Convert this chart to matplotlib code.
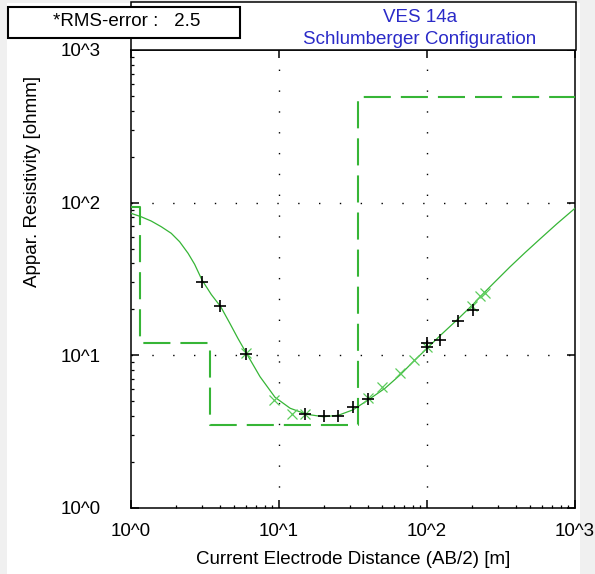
import matplotlib
matplotlib.use("Agg")
import matplotlib.pyplot as plt
import numpy as np
from matplotlib.patches import Rectangle
from matplotlib.ticker import LogLocator, FuncFormatter, NullFormatter

plt.rcParams['font.family'] = ['Liberation Sans', 'DejaVu Sans']

# field data (black +)
obs_ab2 = [3.0, 4.0, 6.0, 15.0, 20.0, 25.0, 31.5, 40.0, 100.0, 100.0, 122.0, 163.0, 204.0]
obs_rho = [30.1, 21.1, 10.2, 4.12, 3.98, 4.02, 4.58, 5.15, 12.0, 11.3, 12.6, 16.9, 19.8]

# second set of soundings (green x)
sec_ab2 = [6.0, 9.2, 12.2, 15.0, 40.0, 50.0, 65.7, 81.7, 100.0, 200.0, 228.0, 246.0]
sec_rho = [10.3, 5.1, 4.13, 4.15, 5.25, 6.17, 7.7, 9.3, 11.4, 21.0, 24.5, 25.5]

# calculated sounding curve
fit_ab2 = [1.0, 1.17, 1.37, 1.60, 1.87, 2.13, 2.43, 2.69, 3.02, 3.49, 4.04, 4.64, 5.28,
           6.03, 7.44, 9.4, 11.9, 15.4, 20.0, 25.2, 31.7, 40.0, 52.0, 65.7, 81.7,
           100.0, 122.0, 163.0, 205.0, 246.0, 281.0, 364.0, 459.0, 580.0, 752.0, 1000.0]
fit_rho = [85.2, 80.9, 75.8, 69.6, 63.0, 55.5, 46.6, 39.5, 31.1, 25.0, 20.8, 16.3, 12.9,
           10.3, 7.25, 5.31, 4.5, 4.11, 3.96, 4.05, 4.4, 5.1, 6.08, 7.43, 9.2,
           11.1, 13.4, 17.4, 21.6, 26.0, 29.6, 38.0, 47.0, 57.8, 72.5, 91.9]

# layer model
layer_rho = [94.0, 12.1, 3.5, 494.0]
layer_depth = [1.145, 3.44, 34.2]

W, H = 595, 574
fig = plt.figure(figsize=(W / 100, H / 100), dpi=100, facecolor='#f0f0f0')

def fx(px):
    return px / W

def fy(py):
    return 1 - py / H

# white panel
fig.patches.append(Rectangle((fx(7), 0), fx(580) - fx(7), fy(3), transform=fig.transFigure,
                             facecolor='white', edgecolor='none', zorder=-1))

ax = fig.add_axes([fx(131), fy(508), fx(575) - fx(131), fy(50) - fy(508)])
ax.set_zorder(1)
ax.set_xscale('log')
ax.set_yscale('log')
ax.set_xlim(1, 1000)
ax.set_ylim(1, 1000)

green = '#36b536'

# layer model steps
lx = [1.0]
ly = [layer_rho[0]]
for d, r0, r1 in zip(layer_depth, layer_rho[:-1], layer_rho[1:]):
    lx += [d, d]
    ly += [r0, r1]
lx.append(1000.0)
ly.append(layer_rho[-1])
ax.plot(lx, ly, color=green, lw=1.5, dashes=(13, 4.8), zorder=3)

ax.plot(fit_ab2, fit_rho, color=green, lw=0.9, zorder=4)
ax.plot(sec_ab2, sec_rho, ls='none', marker='x', ms=6.5, mew=0.9, color='#5ccc5c', zorder=5)
ax.plot(obs_ab2, obs_rho, ls='none', marker='+', ms=8.5, mew=1.2, color='black', zorder=6)

# grid
for v in [10, 100]:
    ax.axvline(v, color='black', lw=1.0, ls=(0, (1, 14)), zorder=1)
    ax.axhline(v, color='black', lw=1.0, ls=(0, (1, 14)), zorder=1)

fmt = FuncFormatter(lambda v, p: '10^%d' % round(np.log10(v)))
for axis in [ax.xaxis, ax.yaxis]:
    axis.set_major_locator(LogLocator(base=10, numticks=10))
    axis.set_minor_locator(LogLocator(base=10, subs=np.arange(2, 10), numticks=10))
    axis.set_major_formatter(fmt)
    axis.set_minor_formatter(NullFormatter())

ax.tick_params(which='major', direction='in', length=6, width=1.1, top=True, right=True,
               labelsize=13.5, color='black')
ax.tick_params(which='minor', direction='in', length=2.5, width=0.9, top=False, right=False)
ax.tick_params(axis='x', which='major', pad=11)
ax.tick_params(axis='y', which='major', pad=22)
for s in ax.spines.values():
    s.set_linewidth(1.1)

# title box
fig.patches.append(Rectangle((fx(131), fy(50)), fx(576) - fx(131), fy(2) - fy(50),
                             transform=fig.transFigure, facecolor='white',
                             edgecolor='black', lw=1.1, zorder=2))
fig.text(fx(420), fy(17), 'VES 14a', color='#2a2ac8', fontsize=13.5, ha='center', va='center',
         zorder=3)
fig.text(fx(420), fy(39), 'Schlumberger Configuration', color='#2a2ac8', fontsize=13.5,
         ha='center', va='center', zorder=3)

# RMS box
fig.patches.append(Rectangle((fx(8), fy(38)), fx(240) - fx(8), fy(7) - fy(38),
                             transform=fig.transFigure, facecolor='white',
                             edgecolor='black', lw=1.5, zorder=4))
fig.text(fx(53), fy(22), '*RMS-error :   2.5', fontsize=13.5, ha='left', va='center', zorder=5)

fig.text(fx(33), fy(181), 'Appar. Resistivity [ohmm]', fontsize=13.5, rotation=90,
         ha='center', va='center')
fig.text(fx(353), fy(560), 'Current Electrode Distance (AB/2) [m]', fontsize=13.5,
         ha='center', va='center')

fig.savefig('out.png', dpi=100, facecolor=fig.get_facecolor())
